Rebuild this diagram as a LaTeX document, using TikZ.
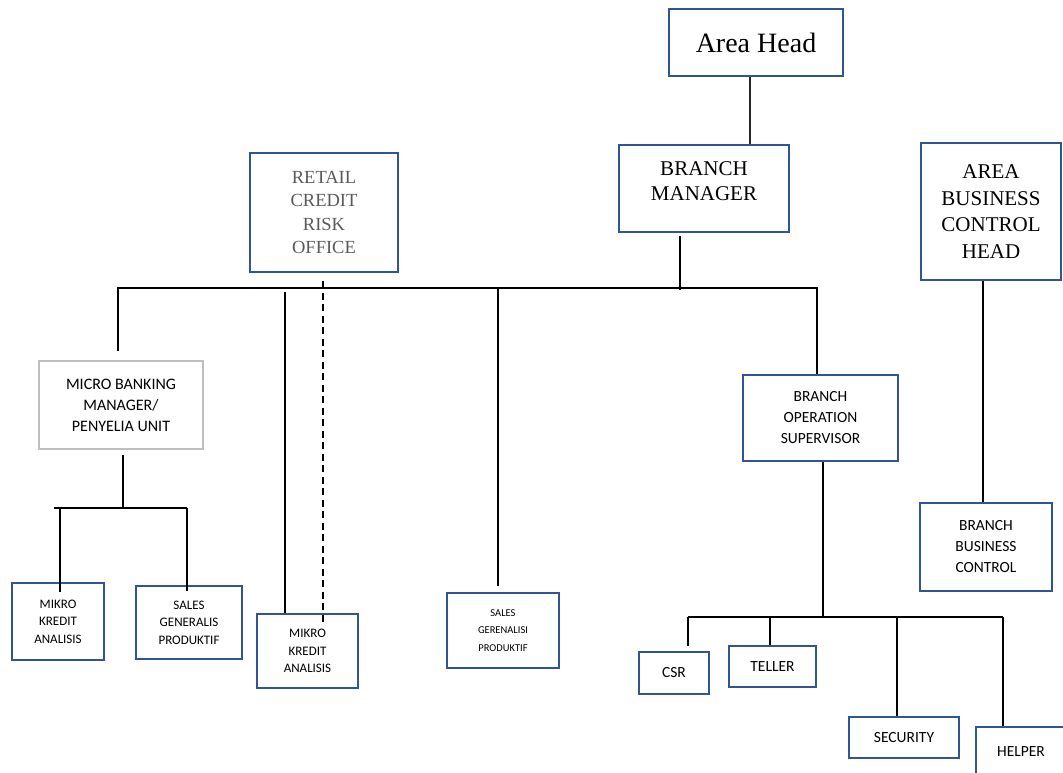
\documentclass[tikz,border=0pt]{standalone}
\usepackage{fontspec}
\setmainfont{Carlito}
\newfontfamily\timesfam{Liberation Serif}
\usetikzlibrary{calc}
\definecolor{boxblue}{RGB}{47,85,151}
\definecolor{boxgray}{RGB}{191,191,191}
\definecolor{txtgray}{RGB}{89,89,89}
\begin{document}
\begin{tikzpicture}[x=1pt,y=-1pt,
  box/.style={draw=boxblue,line width=2.8pt,align=center,inner sep=0pt},
  graybox/.style={box,draw=boxgray},
  conn/.style={line width=2.8pt,black},
  thinconn/.style={line width=1.4pt,black!85},
  dashconn/.style={line width=2.2pt,black,dash pattern=on 7pt off 4.5pt},
  fbig/.style={font=\timesfam\fontsize{28}{32}\selectfont},
  fser/.style={font=\timesfam\fontsize{21}{25.5}\selectfont},
  fsmall/.style={font=\fontsize{13}{17.5}\selectfont},
  fmid/.style={font=\fontsize{15.5}{21}\selectfont}]
\useasboundingbox (0,0) rectangle (1063,773);
\clip (0,0) rectangle (1063,773);

% boxes
\node[box,fbig,minimum width=174,minimum height=67] (ah) at (756,42.5) {Area Head};
\node[box,fser,minimum width=170,minimum height=87,text depth=15pt] (bm) at (704,188.5) {BRANCH\\MANAGER};
\node[box,font=\timesfam\fontsize{18.5}{23.3}\selectfont,text=txtgray,minimum width=148,minimum height=119] (rcro) at (324,212.5) {RETAIL\\CREDIT\\RISK\\OFFICE};
\node[box,font=\timesfam\fontsize{21}{26.5}\selectfont,minimum width=140,minimum height=137] (abch) at (991,211.5) {AREA\\BUSINESS\\CONTROL\\HEAD};
\node[graybox,font=\fontsize{16}{21}\selectfont,minimum width=164,minimum height=88] (mbm) at (121,405) {MICRO BANKING\\MANAGER/\\PENYELIA UNIT};
\node[box,fmid,minimum width=155,minimum height=86] (bos) at (820.5,418) {BRANCH\\OPERATION\\SUPERVISOR};
\node[box,fmid,minimum width=132,minimum height=88] (bbc) at (986,547) {BRANCH\\BUSINESS\\CONTROL};
\node[box,fsmall,minimum width=92,minimum height=77] (mka1) at (58,621.5) {MIKRO\\KREDIT\\ANALISIS};
\node[box,fsmall,minimum width=106,minimum height=73] (sgp) at (189,622.5) {SALES\\GENERALIS\\PRODUKTIF};
\node[box,fsmall,minimum width=101,minimum height=74] (mka2) at (307.5,651) {MIKRO\\KREDIT\\ANALISIS};
\node[box,font=\fontsize{10.5}{17.5}\selectfont,minimum width=112,minimum height=75] (sgerp) at (503,630.5) {SALES\\GERENALISI\\PRODUKTIF};
\node[box,fmid,minimum width=70,minimum height=42] (csr) at (674,673) {CSR};
\node[box,fmid,minimum width=87,minimum height=41] (teller) at (772.5,666.5) {TELLER};
\node[box,fmid,minimum width=110,minimum height=41] (security) at (904,737.5) {SECURITY};
\node[box,fmid,minimum width=90,minimum height=50] (helper) at (1021,752) {HELPER};

% guide coordinates
\coordinate (xah) at (750,0);
\coordinate (xbm) at (680,0);
\coordinate (bus) at (0,288);
\coordinate (busL) at (118,288);
\coordinate (busR) at (817,288);
\coordinate (x285) at (285,292);
\coordinate (x323) at (323,0);
\coordinate (x498) at (498,289);
\coordinate (xmbm) at (123,0);
\coordinate (sub) at (0,508);
\coordinate (subL) at (54,508);
\coordinate (subR) at (187,508);
\coordinate (x60) at (60,0);
\coordinate (xbos) at (823,0);
\coordinate (bot) at (0,617);
\coordinate (botL) at (688,617);
\coordinate (botR) at (1003,617);
\coordinate (x770) at (770,0);
\coordinate (x897) at (897,0);
\coordinate (xabch) at (983,0);

% connectors
\draw[thinconn] (ah.south -| xah) -- (bm.north -| xah);
\draw[conn] ($(bm.south -| xbm)+(0,3)$) -- ($(xbm |- bus)+(0,2)$);
\draw[conn] ($(mbm.north -| busL)+(0,-9)$) -- (busL) -- (busR) -- (bos.north -| busR);
\draw[conn] (x285) -- (mka2.north -| x285);
\draw[dashconn] ($(rcro.south -| x323)+(0,8)$) -- ($(mka2.north -| x323)+(0,9)$);
\draw[conn] (x498) -- ($(sgerp.north -| x498)+(0,-6)$);
\draw[conn] ($(mbm.south -| xmbm)+(0,5)$) -- (xmbm |- sub);
\draw[conn] (subL) -- (subR);
\draw[conn] (x60 |- sub) -- ($(mka1.north -| x60)+(0,10)$);
\draw[conn] (subR) -- ($(sgp.north -| subR)+(0,6)$);
\draw[conn] (bos.south -| xbos) -- (xbos |- bot);
\draw[conn] (botL) -- (botR);
\draw[conn] (botL) -- ($(csr.north -| botL)+(0,-5)$);
\draw[conn] (x770 |- bot) -- (teller.north -| x770);
\draw[conn] (x897 |- bot) -- (security.north -| x897);
\draw[conn] (botR) -- (helper.north -| botR);
\draw[conn] (abch.south -| xabch) -- (bbc.north -| xabch);
\end{tikzpicture}
\end{document}
